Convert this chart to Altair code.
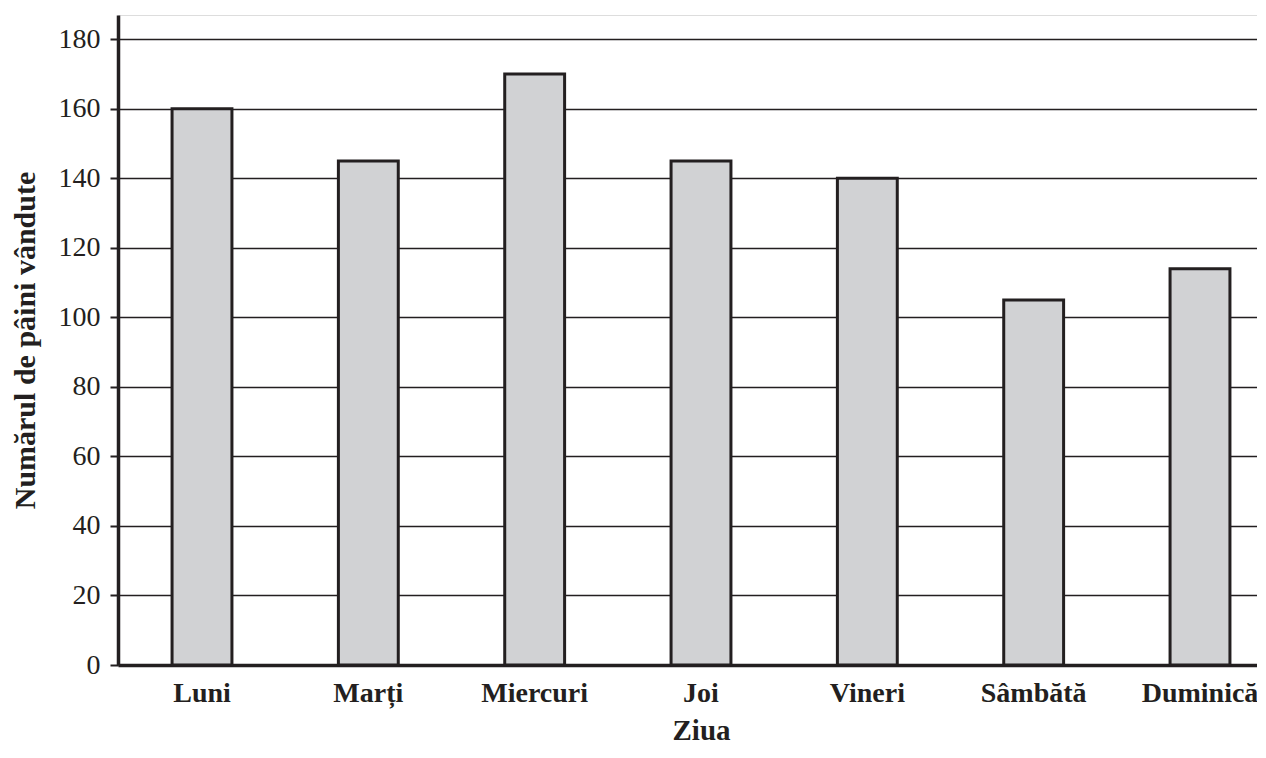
import altair as alt
import pandas as pd

days = ["Luni", "Marți", "Miercuri", "Joi", "Vineri", "Sâmbătă", "Duminică"]
values = [160, 145, 170, 145, 140, 105, 114]
y_ticks = [0, 20, 40, 60, 80, 100, 120, 140, 160, 180]

df = pd.DataFrame({"Ziua": days, "Numar": values})

INK = "#231f20"
FONT = "Liberation Serif"

chart = alt.Chart(df).mark_bar(
    fill="#d1d2d4", stroke=INK, strokeWidth=3
).encode(
    x=alt.X("Ziua:N", sort=days, title="Ziua",
            scale=alt.Scale(paddingInner=0.64, paddingOuter=0.325, range=[0, 1166]),
            axis=alt.Axis(labelAngle=0, labelFont=FONT, labelFontSize=28, labelFontWeight="bold",
                          labelColor=INK, labelPadding=14, ticks=False,
                          domainColor=INK, domainWidth=3.5,
                          titleFont=FONT, titleFontSize=29, titleFontWeight="bold",
                          titleColor=INK, titlePadding=9)),
    y=alt.Y("Numar:Q", title="Numărul de pâini vândute",
            scale=alt.Scale(domain=[0, 187], nice=False, zero=True),
            axis=alt.Axis(values=y_ticks, labelFont=FONT, labelFontSize=28, labelColor=INK,
                          labelPadding=10, tickSize=8, tickColor=INK, tickWidth=2,
                          domainColor=INK, domainWidth=3.5,
                          grid=True, gridColor=INK, gridWidth=1.6,
                          titleFont=FONT, titleFontSize=30, titleFontWeight="bold",
                          titleColor=INK, titlePadding=18))
).properties(
    width=1139, height=650,
    autosize=alt.AutoSizeParams(type="none"),
    padding={"left": 110, "top": 7, "right": 0, "bottom": 81}
).configure_view(stroke=None).configure(background="white")

chart.save("out.html", embed_options={"renderer": "svg", "actions": False})
